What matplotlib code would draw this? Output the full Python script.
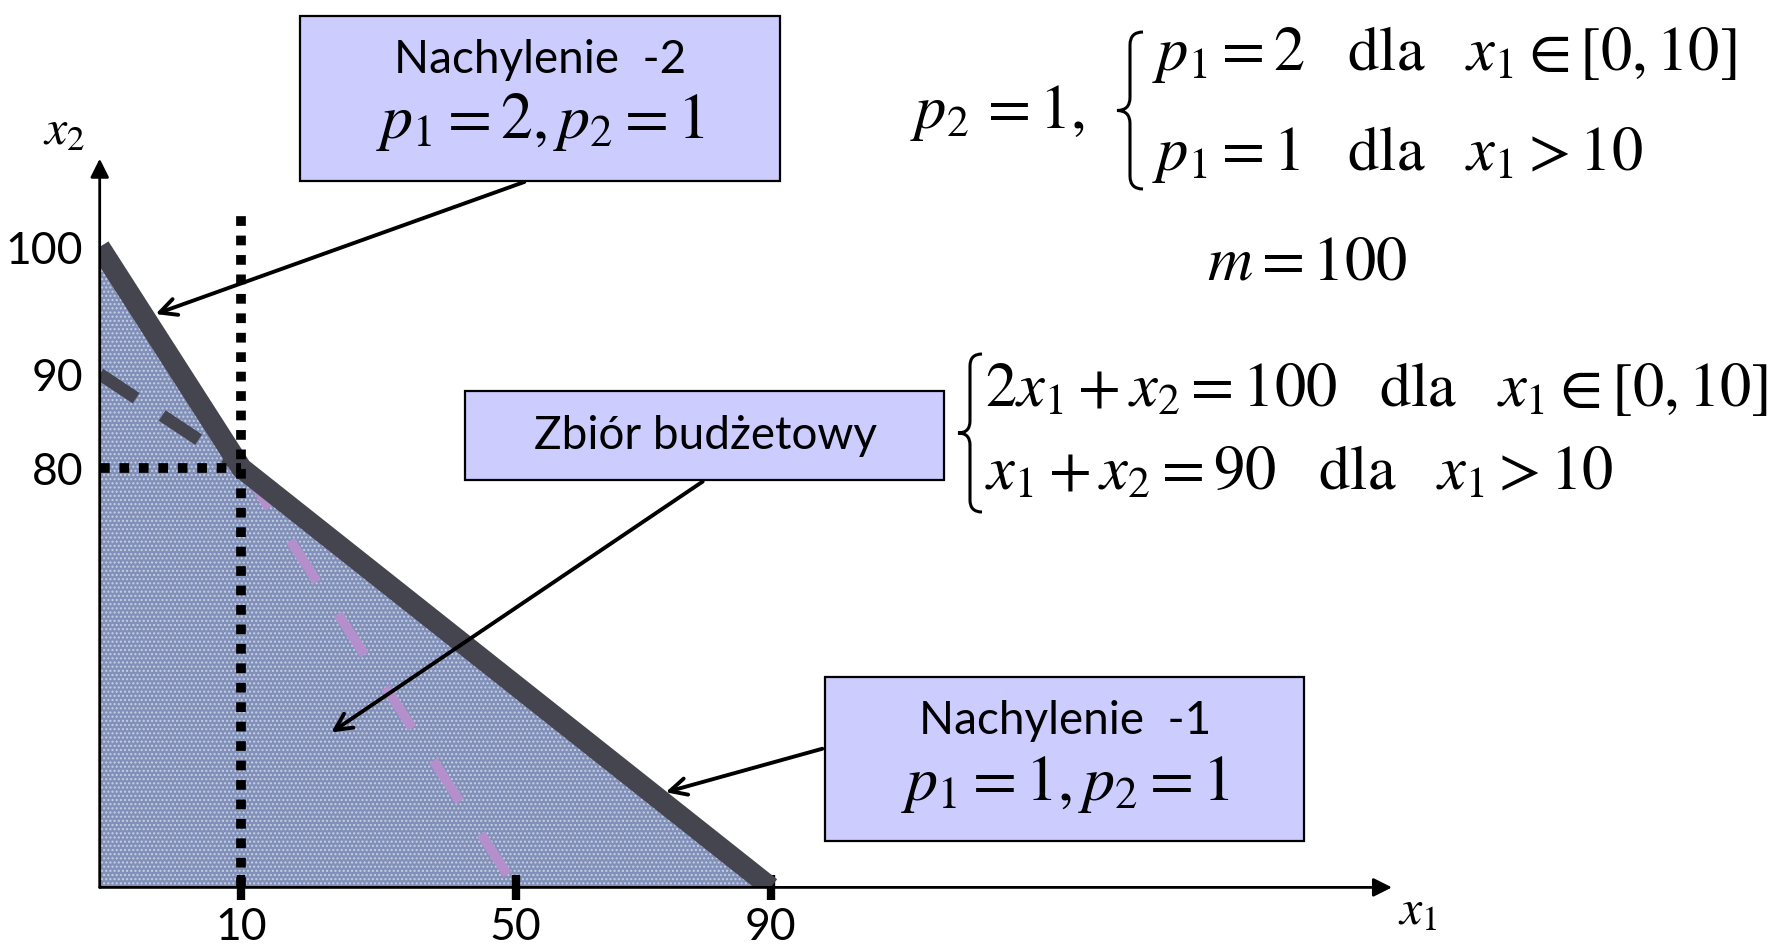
import matplotlib
matplotlib.use("Agg")
import matplotlib.pyplot as plt
import numpy as np
from matplotlib.patches import Rectangle, FancyArrowPatch, PathPatch
from matplotlib.path import Path

plt.rcParams['font.family'] = ['Lato', 'DejaVu Sans']
plt.rcParams['mathtext.fontset'] = 'stix'
plt.rcParams['hatch.linewidth'] = 1.0

# budget set data
income = 100
kink_x1 = 10
kink_x2 = 80
x1_ticks = [10, 50, 90]
x2_ticks = [80, 90, 100]
budget_x1 = [0, 10, 90]          # kinked budget line
budget_x2 = [100, 80, 0]
steep_x1 = [0, 50]               # 2*x1 + x2 = 100 extended
steep_x2 = [100, 0]
flat_x1 = [0, 10]                # x1 + x2 = 90 extended back
flat_x2 = [90, 80]

W, H = 1777, 946
fig = plt.figure(figsize=(W / 100, H / 100), dpi=100)


def fx(px):
    return px / W


def fy(py):
    return 1 - py / H


# schematic (non-proportional) axes -> piecewise scale
x_knots_d = [0, 10, 50, 90, 300]
x_knots_u = [0, 141.7, 416.0, 671.0, 671.0 + 210 * 6.375]
y_knots_d = [0, 80, 90, 100, 300]
y_knots_u = [0, 419.3, 513.4, 640.4, 640.4 + 200 * 12.7]

x_fwd = lambda v: np.interp(v, x_knots_d, x_knots_u)
x_inv = lambda v: np.interp(v, x_knots_u, x_knots_d)
y_fwd = lambda v: np.interp(v, y_knots_d, y_knots_u)
y_inv = lambda v: np.interp(v, y_knots_u, y_knots_d)

ox, oy = 99.7, 887.4
ax = fig.add_axes([fx(ox), fy(oy), (1392 - ox) / W, (oy - 158.7) / H])
ax.set_xscale('function', functions=(x_fwd, x_inv))
ax.set_yscale('function', functions=(y_fwd, y_inv))
ax.set_xlim(0, float(x_inv(1392 - ox)))
ax.set_ylim(0, float(y_inv(oy - 158.7)))
ax.patch.set_alpha(0)
for s in ax.spines.values():
    s.set_visible(False)

# budget set
ax.fill(budget_x1 + [0], budget_x2 + [0], color='#8190b8', ec='none', zorder=1)
ax.fill(budget_x1 + [0], budget_x2 + [0], fc='none', ec='#c8d0e4', lw=0,
        hatch='....', zorder=1)
ax.plot(steep_x1, steep_x2, color='#b48fcc', lw=7, ls=(0, (5, 4)), zorder=2)
ax.plot(flat_x1, flat_x2, color='#45454f', lw=9, ls=(0, (3.5, 2.5)), zorder=2)
ax.plot(budget_x1, budget_x2, color='#45454f', lw=15, solid_capstyle='butt',
        solid_joinstyle='miter', zorder=3)
ax.plot([kink_x1, kink_x1], [0, 102.5], color='k', lw=7, ls=(0, (1, 1)), zorder=4)
ax.plot([0, kink_x1], [kink_x2, kink_x2], color='k', lw=7, ls=(0, (1, 1)), zorder=4)

# axes with arrows
ax.annotate('', xy=(1, 0), xytext=(0, 0), xycoords='axes fraction',
            arrowprops=dict(arrowstyle='-|>', lw=2, color='k', mutation_scale=28,
                            shrinkA=0, shrinkB=0), zorder=5)
ax.annotate('', xy=(0, 1), xytext=(0, 0), xycoords='axes fraction',
            arrowprops=dict(arrowstyle='-|>', lw=2, color='k', mutation_scale=28,
                            shrinkA=0, shrinkB=0), zorder=5)

ax.set_xticks(x1_ticks)
ax.set_xticklabels([str(v) for v in x1_ticks])
ax.set_yticks(x2_ticks)
ax.set_yticklabels([str(v) for v in x2_ticks])
ax.set_yticks([income], minor=True)
ax.xaxis.set_minor_locator(matplotlib.ticker.NullLocator())
ax.tick_params(axis='x', which='major', direction='inout', length=18, width=6,
               labelsize=32, pad=5)
ax.tick_params(axis='y', which='major', length=0, labelsize=32, pad=12)
ax.tick_params(axis='y', which='minor', direction='in', length=18, width=6)

fig.text(fx(64), fy(130), r'$x_2$', fontsize=36, ha='center', va='center')
fig.text(fx(1418), fy(910), r'$x_1$', fontsize=36, ha='center', va='center')

# text boxes with arrows
box_fc = '#ccccff'


def box(x0, y0, x1, y1):
    fig.patches.append(Rectangle((fx(x0), fy(y1)), fx(x1 - x0), (y1 - y0) / H,
                                 transform=fig.transFigure, fc=box_fc, ec='k',
                                 lw=1.6, zorder=6))


def arrow(p0, p1):
    fig.patches.append(FancyArrowPatch((fx(p0[0]), fy(p0[1])), (fx(p1[0]), fy(p1[1])),
                                       transform=fig.transFigure, arrowstyle='->',
                                       mutation_scale=30, lw=2.8, color='k', zorder=7))


box(300, 16, 780, 181)
fig.text(fx(540), fy(60), 'Nachylenie  -2', fontsize=33, ha='center', va='center', zorder=8)
fig.text(fx(540), fy(138), r'$p_1=2,p_2=1$', fontsize=46, ha='center', va='baseline', zorder=8)
arrow((527, 181), (153, 315))

box(465, 391, 944, 480)
fig.text(fx(705), fy(436), 'Zbiór budżetowy', fontsize=33, ha='center', va='center', zorder=8)
arrow((705, 480), (329, 734))

box(825, 677, 1304, 841)
fig.text(fx(1065), fy(721), 'Nachylenie  -1', fontsize=33, ha='center', va='center', zorder=8)
fig.text(fx(1065), fy(800), r'$p_1=1,p_2=1$', fontsize=46, ha='center', va='baseline', zorder=8)
arrow((825, 748), (663, 793))


# curly braces
def brace(x, y0, y1, w):
    xm = x + w / 2
    ym = (y0 + y1) / 2
    pts = [(x + w, y0), (xm, y0), (xm, y0 + w / 2), (xm, ym - w / 2),
           (xm, ym), (x, ym), (xm, ym), (xm, ym + w / 2), (xm, y1 - w / 2),
           (xm, y1), (x + w, y1)]
    codes = [Path.MOVETO, Path.CURVE3, Path.CURVE3, Path.LINETO,
             Path.CURVE3, Path.CURVE3, Path.CURVE3, Path.CURVE3, Path.LINETO,
             Path.CURVE3, Path.CURVE3]
    verts = [(fx(a), fy(b)) for a, b in pts]
    fig.patches.append(PathPatch(Path(verts, codes), transform=fig.transFigure,
                                 fc='none', ec='k', lw=2.2))


gap = r'\enspace\;\,'
fig.text(fx(910), fy(128), r'$p_2\,=1,$', fontsize=45, ha='left', va='baseline')
brace(1117, 32, 189, 26)
fig.text(fx(1152), fy(70), r'$p_1=2' + gap + r'\mathrm{dla}' + gap + r'x_1\in\left[0,10\right]$',
         fontsize=45, ha='left', va='baseline')
fig.text(fx(1152), fy(170), r'$p_1=1' + gap + r'\mathrm{dla}' + gap + r'x_1>10$',
         fontsize=45, ha='left', va='baseline')
fig.text(fx(1207), fy(280), r'$m=100$', fontsize=45, ha='left', va='baseline')

brace(958, 354, 512, 24)
fig.text(fx(985), fy(406), r'$2x_1+x_2=100' + gap + r'\mathrm{dla}' + gap + r'x_1\in\left[0,10\right]$',
         fontsize=45, ha='left', va='baseline')
fig.text(fx(985), fy(490), r'$x_1+x_2=90' + gap + r'\mathrm{dla}' + gap + r'x_1>10$',
         fontsize=45, ha='left', va='baseline')

fig.savefig('out.png', dpi=100)
